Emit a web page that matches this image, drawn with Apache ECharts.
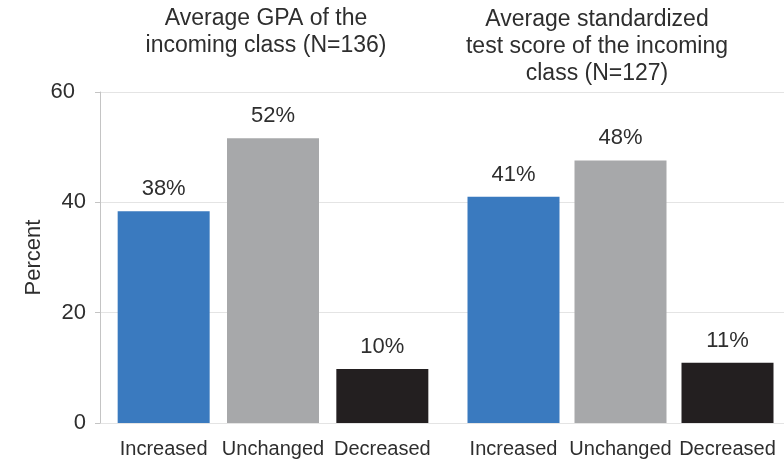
<!DOCTYPE html>
<html>
<head>
<meta charset="utf-8">
<script src="https://cdn.jsdelivr.net/npm/echarts@6/dist/echarts.min.js"></script>
<style>
html,body{margin:0;padding:0;background:#fff;}
#chart{width:784px;height:460px;}
</style>
</head>
<body>
<div id="chart"></div>
<script>
const categories = ['Increased', 'Unchanged', 'Decreased'];
const gpaValues = [38.4, 51.6, 9.8];
const testValues = [41.0, 47.6, 10.9];
const panelTitles = [
  'Average GPA of the\nincoming class (N=136)',
  'Average standardized\ntest score of the incoming\nclass (N=127)'
];
const yMin = 0, yMax = 60, yStep = 20;
const yName = 'Percent';

const barColors = ['#3a7abf', '#a7a8aa', '#231f20'];
const FONT = '"Liberation Sans", Arial, Helvetica, sans-serif';
const TXT = '#2e2e2e';

const chart = echarts.init(document.getElementById('chart'), null, {renderer: 'canvas'});

function barSeries(idx, values) {
  return {
    type: 'bar',
    xAxisIndex: idx,
    yAxisIndex: idx,
    data: values,
    barWidth: 92,
    itemStyle: { color: p => barColors[p.dataIndex] },
    label: {
      show: true,
      position: 'top',
      distance: 11,
      formatter: p => Math.round(p.value) + '%',
      color: TXT,
      fontFamily: FONT,
      fontSize: 22
    },
    silent: true,
    animation: false
  };
}

const catAxis = (gi) => ({
  type: 'category',
  gridIndex: gi,
  data: categories,
  axisLine: { show: false },
  axisTick: { show: false },
  axisLabel: { color: TXT, fontFamily: FONT, fontSize: 20, margin: 16, interval: 0 }
});

const hiddenY = (gi) => ({
  type: 'value', gridIndex: gi, min: yMin, max: yMax, interval: yStep, show: false
});

const option = {
  backgroundColor: '#ffffff',
  animation: false,
  grid: [
    { left: 100, right: 0, top: 92, bottom: 37 },
    { left: 109, width: 328, top: 92, bottom: 37 },
    { left: 460, width: 321, top: 92, bottom: 37 }
  ],
  xAxis: [
    { type: 'value', gridIndex: 0, show: false, min: 0, max: 1 },
    catAxis(1),
    catAxis(2)
  ],
  yAxis: [
    {
      type: 'value', gridIndex: 0, min: yMin, max: yMax, interval: yStep,
      name: yName, nameLocation: 'middle', nameGap: 55, nameMoveOverlap: false,
      nameTextStyle: { color: TXT, fontFamily: FONT, fontSize: 22 },
      axisLine: { show: true, lineStyle: { color: '#c4c4c4', width: 1 } },
      axisTick: { show: true, length: 5, lineStyle: { color: '#c4c4c4' } },
      axisLabel: {
        color: TXT, fontFamily: FONT, fontSize: 22, margin: 14,
        formatter: v => v === yMax ? '{a|' + v + '}' : String(v),
        rich: { a: { color: TXT, fontFamily: FONT, fontSize: 22, padding: [0, 11, 0, 0] } }
      },
      splitLine: { show: true, lineStyle: { color: '#e4e4e4', width: 1 } }
    },
    hiddenY(1),
    hiddenY(2)
  ],
  series: [
    barSeries(1, gpaValues),
    barSeries(2, testValues)
  ],
  graphic: [
    { type: 'text', x: 266, y: 5, silent: true,
      style: { text: panelTitles[0], fill: TXT, font: '23px ' + FONT, align: 'center', verticalAlign: 'top', lineHeight: 27 } },
    { type: 'text', x: 597, y: 6, silent: true,
      style: { text: panelTitles[1], fill: TXT, font: '23px ' + FONT, align: 'center', verticalAlign: 'top', lineHeight: 27 } }
  ]
};
chart.setOption(option);
</script>
</body>
</html>
